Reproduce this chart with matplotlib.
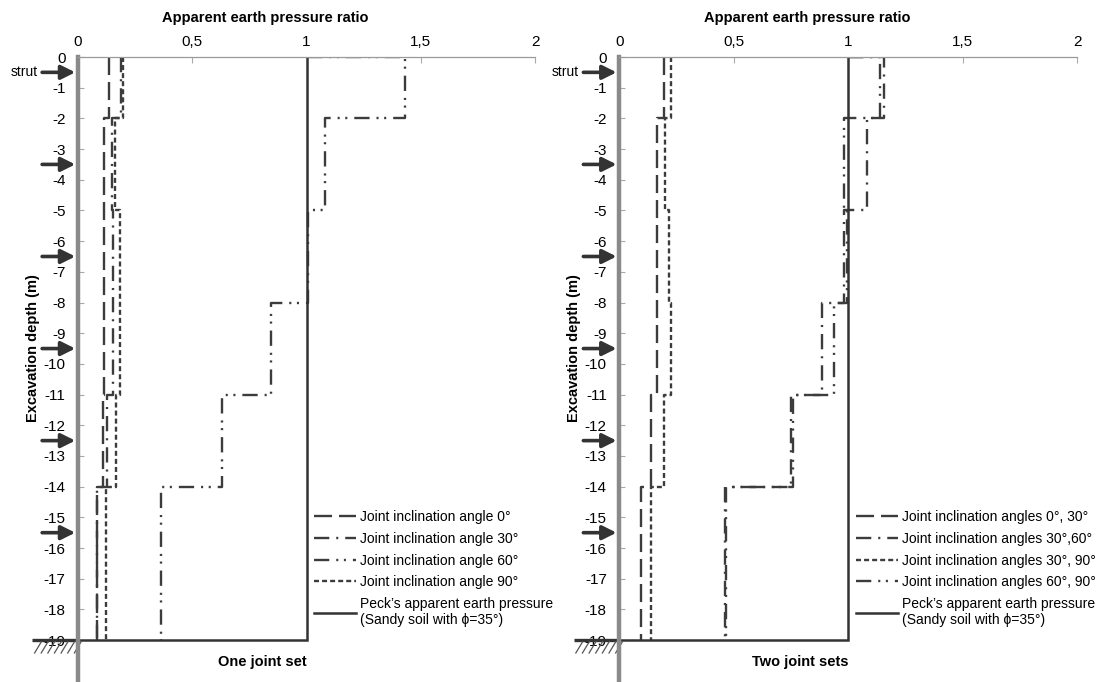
import matplotlib
matplotlib.use("Agg")
import matplotlib.pyplot as plt
import numpy as np
from matplotlib.lines import Line2D

plt.rcParams['lines.scale_dashes'] = False

# ---------------- data ----------------
layer_tops = [0, -2, -5, -8, -11, -14]
layer_bottoms = [-2, -5, -8, -11, -14, -19]
strut_depths = [-0.5, -3.5, -6.5, -9.5, -12.5, -15.5]
peck_ratio = 1.0
excavation_depth = -19

# One joint set (apparent earth pressure ratio per layer)
one_angle_0 = [0.137, 0.115, 0.115, 0.115, 0.108, 0.082]
one_angle_30 = [0.19, 0.15, 0.152, 0.152, 0.125, 0.082]
one_angle_60 = [1.43, 1.08, 1.005, 0.845, 0.632, 0.362]
one_angle_90 = [0.195, 0.16, 0.183, 0.183, 0.168, 0.122]

# Two joint sets
two_angles_0_30 = [0.194, 0.163, 0.165, 0.165, 0.14, 0.093]
two_angles_30_60 = [1.155, 1.083, 0.98, 0.886, 0.75, 0.46]
two_angles_30_90 = [0.228, 0.199, 0.216, 0.225, 0.196, 0.138]
two_angles_60_90 = [1.14, 0.98, 0.995, 0.937, 0.76, 0.467]

one_labels = ["Joint inclination angle 0°", "Joint inclination angle 30°",
              "Joint inclination angle 60°", "Joint inclination angle 90°"]
two_labels = ["Joint inclination angles 0°, 30°", "Joint inclination angles 30°,60°",
              "Joint inclination angles 30°, 90°", "Joint inclination angles 60°, 90°"]
peck_label = "Peck’s apparent earth pressure\n(Sandy soil with ϕ=35°)"

xticks = [0, 0.5, 1, 1.5, 2]
xtick_labels = ["0", "0,5", "1", "1,5", "2"]
yticks = list(range(0, -20, -1))
ytick_labels = [str(v) for v in yticks]

panel_titles = ["One joint set", "Two joint sets"]
xlabel = "Apparent earth pressure ratio"
ylabel = "Excavation depth (m)"

# ---------------- styles ----------------
LINE_COLOR = "#3c3c3c"
long_dash = (0, (13, 5))
dash_dot = (0, (11, 5, 1.5, 5))
dash_dot_dot = (0, (11, 5, 1.5, 4, 1.5, 5))
short_dash = (0, (3.6, 2.2))

TICK_FONT = ['Liberation Sans Narrow', 'Liberation Sans', 'DejaVu Sans']
TEXT_FONT = ['Liberation Sans', 'DejaVu Sans']


def step_path(values):
    xs, ys = [], []
    if values[0] > peck_ratio:
        xs.append(peck_ratio)
        ys.append(layer_tops[0])
    for v, t, b in zip(values, layer_tops, layer_bottoms):
        xs += [v, v]
        ys += [t, b]
    return xs, ys


fig = plt.figure(figsize=(10.98, 6.82), dpi=100)

W, H = 1098.0, 682.0
panels = [
    dict(left=78, right=535,
         series=[one_angle_0, one_angle_30, one_angle_60, one_angle_90],
         styles=[long_dash, dash_dot, dash_dot_dot, short_dash],
         labels=one_labels, title=panel_titles[0]),
    dict(left=619.3, right=1077,
         series=[two_angles_0_30, two_angles_30_60, two_angles_30_90, two_angles_60_90],
         styles=[long_dash, dash_dot, short_dash, dash_dot_dot],
         labels=two_labels, title=panel_titles[1]),
]

for p in panels:
    ax = fig.add_axes([p['left'] / W, 2 / H, (p['right'] - p['left']) / W, (680 - 57) / H])
    ax.set_xlim(0, 2)
    ax.set_ylim(-20.3, 0)

    handles = []
    for vals, ls in zip(p['series'], p['styles']):
        xs, ys = step_path(vals)
        ln, = ax.plot(xs, ys, color=LINE_COLOR, lw=1.7, linestyle=ls,
                      solid_capstyle='butt', dash_capstyle='butt')
        handles.append(ln)

    # Peck's apparent earth pressure
    pk, = ax.plot([0, peck_ratio, peck_ratio], [excavation_depth, excavation_depth, 0],
                  color="#333333", lw=1.8, solid_joinstyle='miter')
    handles.append(pk)

    # spines
    for s in ['right', 'bottom']:
        ax.spines[s].set_visible(False)
    ax.spines['left'].set_color('#8a8a8a')
    ax.spines['left'].set_linewidth(3.2)
    ax.spines['top'].set_color('#9a9a9a')
    ax.spines['top'].set_linewidth(0.9)

    ax.xaxis.tick_top()
    ax.set_xticks(xticks)
    ax.set_xticklabels(xtick_labels, family=TICK_FONT, fontsize=11)
    ax.set_yticks(yticks)
    ax.set_yticklabels(ytick_labels, family=TICK_FONT, fontsize=11)
    ax.tick_params(axis='x', direction='in', length=4, color='#aaaaaa', pad=6)
    ax.tick_params(axis='y', direction='in', length=4, color='#aaaaaa', pad=9)

    # axis titles
    ax.text(0.82, 1.27, xlabel, ha='center', va='center', fontsize=10.5,
            fontweight='bold', family=TEXT_FONT, clip_on=False)
    ax.text(-0.197, -9.5, ylabel, ha='center', va='center', rotation=90,
            fontsize=10.5, fontweight='bold', family=TEXT_FONT, clip_on=False)
    ax.text(1.0, -19.7, p['title'], ha='right', va='center', fontsize=10.5,
            fontweight='bold', family=TEXT_FONT, clip_on=False)

    # struts
    for d in strut_depths:
        ax.annotate('', xy=(-0.012, d), xytext=(-0.157, d),
                    arrowprops=dict(arrowstyle='-|>,head_length=0.7,head_width=0.35',
                                    lw=2.6, color='#333333', mutation_scale=12,
                                    shrinkA=0, shrinkB=0),
                    annotation_clip=False)
    ax.text(-0.175, strut_depths[0], "strut", ha='right', va='center',
            fontsize=10, family=TICK_FONT, clip_on=False)

    # ground at excavation bottom
    ax.plot([-0.2, 0], [excavation_depth, excavation_depth], color='#333333',
            lw=2.4, clip_on=False, solid_capstyle='butt')
    for hx in np.arange(-0.18, 0.0, 0.029):
        ax.plot([hx + 0.02, hx - 0.01], [excavation_depth - 0.05, excavation_depth - 0.42],
                color='#555555', lw=0.9, clip_on=False)

    leg = ax.legend(handles, p['labels'] + [peck_label], loc='upper left',
                    bbox_to_anchor=(1.035, -14.77), bbox_transform=ax.transData,
                    frameon=False, borderpad=0, borderaxespad=0,
                    handlelength=3.0, handletextpad=0.3, labelspacing=0.55,
                    prop=dict(family=TEXT_FONT, size=10))

fig.savefig("out.png", dpi=100)
